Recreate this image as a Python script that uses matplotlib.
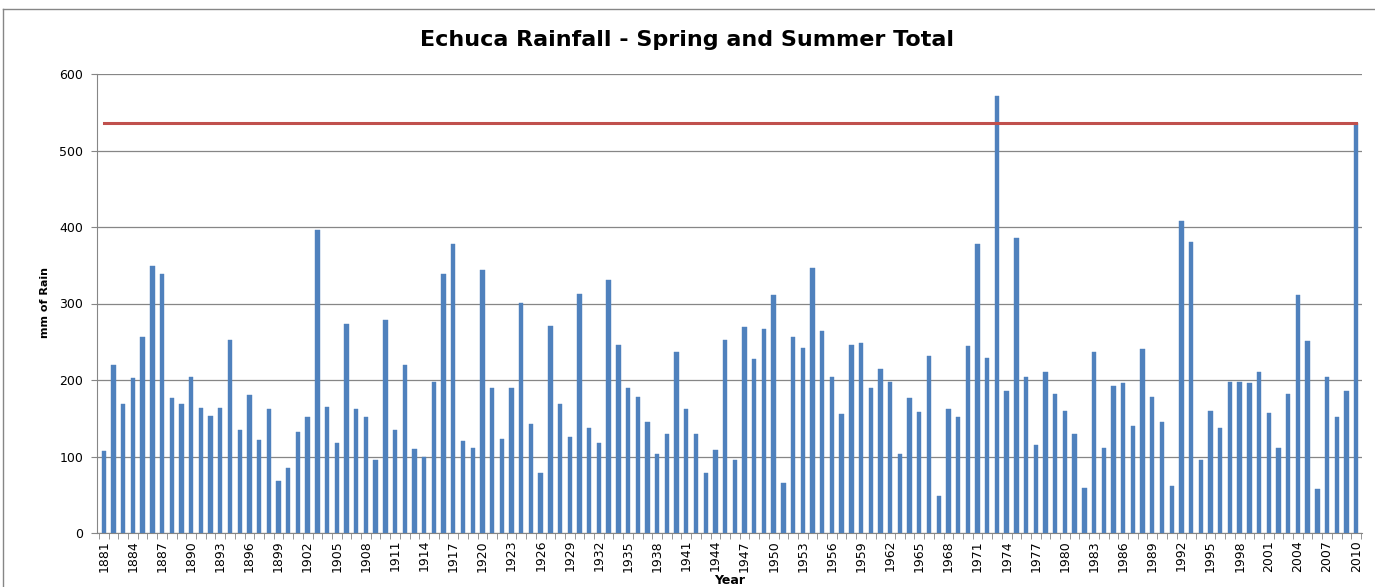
import matplotlib
matplotlib.use("Agg")
import matplotlib.pyplot as plt
from matplotlib.lines import Line2D
import numpy as np

years = list(range(1881, 2011))
rain = [
    107, 220, 168, 202, 256, 349, 338, 177, 168, 204,   # 1881-1890
    163, 153, 163, 252, 135, 181, 122, 162, 68, 85,     # 1891-1900
    132, 152, 396, 165, 118, 273, 162, 152, 95, 279,    # 1901-1910
    135, 219, 110, 100, 197, 338, 378, 120, 111, 344,   # 1911-1920
    190, 123, 190, 301, 142, 78, 271, 168, 126, 313,    # 1921-1930
    137, 118, 331, 246, 189, 178, 145, 103, 130, 236,   # 1931-1940
    162, 130, 78, 108, 252, 96, 269, 227, 267, 311,     # 1941-1950
    66, 256, 242, 346, 264, 204, 155, 246, 248, 189,    # 1951-1960
    215, 197, 103, 177, 158, 232, 48, 162, 152, 244,    # 1961-1970
    378, 229, 571, 185, 386, 204, 115, 211, 182, 160,   # 1971-1980
    130, 59, 237, 111, 192, 196, 140, 241, 178, 145,    # 1981-1990
    61, 408, 380, 95, 160, 137, 197, 197, 196, 211,     # 1991-2000
    157, 111, 182, 311, 251, 58, 204, 152, 185, 536,    # 2001-2010
]
reference_level = 536
title = "Echuca Rainfall - Spring and Summer Total"
y_label = "mm of Rain"
x_label = "Year"
y_ticks = [0, 100, 200, 300, 400, 500, 600]

W, H = 1375, 587
fig = plt.figure(figsize=(W / 100, H / 100), dpi=100)
ax = fig.add_axes([97 / W, 1 - 533 / H, (1362 - 97) / W, (533 - 74) / H])

x = np.arange(len(years))
ax.bar(x, rain, width=0.45, color="#4F81BD", edgecolor="#4F81BD", linewidth=0.3, zorder=3)
ax.plot(x, [reference_level] * len(years), color="#C0504D", linewidth=2.2, zorder=4)

ax.set_xlim(-0.7, len(years) - 0.4)
ax.set_ylim(0, 600)
ax.set_yticks(y_ticks)
ax.set_yticklabels([str(v) for v in y_ticks], fontsize=9)
ax.yaxis.grid(True, color="#868686", linewidth=0.9, zorder=0)
ax.tick_params(axis="y", length=4, color="#868686", pad=6)

lab_idx = list(range(0, len(years), 3))
ax.set_xticks(lab_idx)
ax.set_xticklabels([str(years[i]) for i in lab_idx], rotation=90, fontsize=9)
ax.set_xticks(np.arange(-0.5, len(years), 1.0), minor=True)
ax.tick_params(axis="x", which="major", length=0, pad=5)
ax.tick_params(axis="x", which="minor", length=4, color="#868686")

for s in ["top", "right"]:
    ax.spines[s].set_visible(False)
ax.spines["left"].set_color("#868686")
ax.spines["bottom"].set_color("#868686")

fig.text(0.5, 1 - 40 / H, title, ha="center", va="center", fontsize=16, fontweight="bold")
fig.text(45 / W, 1 - 303 / H, y_label, ha="center", va="center", rotation=90, fontsize=8, fontweight="bold")
fig.text(730 / W, 1 - 580 / H, x_label, ha="center", va="center", fontsize=9, fontweight="bold")

fig.add_artist(Line2D([3 / W, 1.0], [1 - 9 / H, 1 - 9 / H], transform=fig.transFigure, color="#868686", linewidth=1))
fig.add_artist(Line2D([3 / W, 3 / W], [0, 1 - 9 / H], transform=fig.transFigure, color="#868686", linewidth=1))

fig.savefig("out.png", dpi=100)
